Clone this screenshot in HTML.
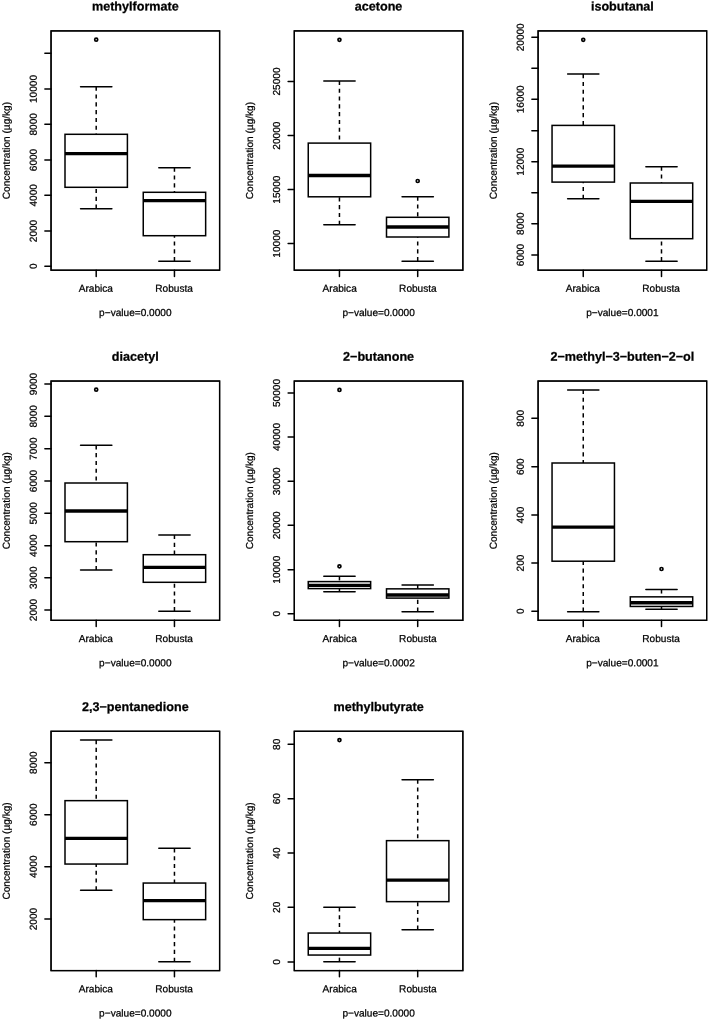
<!DOCTYPE html>
<html lang="en">
<head>
<meta charset="utf-8">
<title>Boxplots: volatile compound concentration, Arabica vs Robusta</title>
<style>
html,body{margin:0;padding:0;background:#fff;}
svg{display:block;will-change:transform;}
text{font-family:"Liberation Sans",sans-serif;fill:#000;stroke:#000;stroke-width:0.25px;stroke-linejoin:round;}
.t{font-size:12.6px;font-weight:bold;text-anchor:middle;}
.l{font-size:10.1px;text-anchor:middle;}
.ln{fill:none;stroke:#000;stroke-width:1.5;stroke-linecap:round;}
.bx{fill:#fff;stroke:#000;stroke-width:1.5;}
.md{stroke:#000;stroke-width:3.3;stroke-linecap:butt;}
.ds{stroke:#000;stroke-width:1.5;stroke-dasharray:4.1 3.7;}
.fr{fill:none;stroke:#000;stroke-width:1.3;}
.pt{fill:none;stroke:#000;stroke-width:1.7;}
</style>
</head>
<body>
<svg width="709" height="1020" viewBox="0 0 709 1020">
<rect width="709" height="1020" fill="#fff"/>
<g>
<text class="t" transform="translate(135.32,10.6) rotate(0.03)">methylformate</text>
<text class="l" transform="translate(9.65,150.55) rotate(-90.03)">Concentration (µg/kg)</text>
<path class="ln" d="M51.05 266.3H44.85"/>
<text class="l" transform="translate(36.65,266.3) rotate(-90.03)">0</text>
<path class="ln" d="M51.05 231H44.85"/>
<text class="l" transform="translate(36.65,231) rotate(-90.03)">2000</text>
<path class="ln" d="M51.05 195.3H44.85"/>
<text class="l" transform="translate(36.65,195.3) rotate(-90.03)">4000</text>
<path class="ln" d="M51.05 160H44.85"/>
<text class="l" transform="translate(36.65,160) rotate(-90.03)">6000</text>
<path class="ln" d="M51.05 124.3H44.85"/>
<text class="l" transform="translate(36.65,124.3) rotate(-90.03)">8000</text>
<path class="ln" d="M51.05 89H44.85"/>
<text class="l" transform="translate(36.65,89) rotate(-90.03)">10000</text>
<path class="ln" d="M51.05 53.3H44.85"/>
<path class="ln" d="M96.2 270.2V276.4"/>
<text class="l" transform="translate(95.8,291.8) rotate(0.03)">Arabica</text>
<path class="ln" d="M174.45 270.2V276.4"/>
<text class="l" transform="translate(174.05,291.8) rotate(0.03)">Robusta</text>
<text class="l" transform="translate(135.32,316) rotate(0.03)">p−value=0.0000</text>
<path class="ds" d="M96.2 86.7V134.3"/>
<path class="ds" d="M96.2 208.7V187.3"/>
<path class="ln" d="M80.55 86.7H111.85"/>
<path class="ln" d="M80.55 208.7H111.85"/>
<rect class="bx" x="65" y="134.3" width="62.4" height="53"/>
<path class="md" d="M65 153.7H127.4"/>
<circle class="pt" cx="96.2" cy="39.7" r="1.5"/>
<path class="ds" d="M174.45 167.7V192.3"/>
<path class="ds" d="M174.45 261.2V235.7"/>
<path class="ln" d="M158.8 167.7H190.1"/>
<path class="ln" d="M158.8 261.2H190.1"/>
<rect class="bx" x="143.25" y="192.3" width="62.4" height="43.4"/>
<path class="md" d="M143.25 200.7H205.65"/>
<rect class="fr" x="51.05" y="30.9" width="168.55" height="239.3"/>
<rect class="fr" x="51.05" y="30.9" width="168.55" height="239.3"/>
</g>
<g>
<text class="t" transform="translate(378.58,10.6) rotate(0.03)">acetone</text>
<text class="l" transform="translate(252.9,150.55) rotate(-90.03)">Concentration (µg/kg)</text>
<path class="ln" d="M294.3 243.6H288.1"/>
<text class="l" transform="translate(279.9,243.6) rotate(-90.03)">10000</text>
<path class="ln" d="M294.3 189.6H288.1"/>
<text class="l" transform="translate(279.9,189.6) rotate(-90.03)">15000</text>
<path class="ln" d="M294.3 135.6H288.1"/>
<text class="l" transform="translate(279.9,135.6) rotate(-90.03)">20000</text>
<path class="ln" d="M294.3 81.5H288.1"/>
<text class="l" transform="translate(279.9,81.5) rotate(-90.03)">25000</text>
<path class="ln" d="M339.45 270.2V276.4"/>
<text class="l" transform="translate(339.65,291.8) rotate(0.03)">Arabica</text>
<path class="ln" d="M417.7 270.2V276.4"/>
<text class="l" transform="translate(417.9,291.8) rotate(0.03)">Robusta</text>
<text class="l" transform="translate(378.58,316) rotate(0.03)">p−value=0.0000</text>
<path class="ds" d="M339.45 80.9V143.1"/>
<path class="ds" d="M339.45 224.8V196.8"/>
<path class="ln" d="M323.8 80.9H355.1"/>
<path class="ln" d="M323.8 224.8H355.1"/>
<rect class="bx" x="308.25" y="143.1" width="62.4" height="53.7"/>
<path class="md" d="M308.25 175.5H370.65"/>
<circle class="pt" cx="339.45" cy="39.8" r="1.5"/>
<path class="ds" d="M417.7 196.7V217.3"/>
<path class="ds" d="M417.7 261.2V237"/>
<path class="ln" d="M402.05 196.7H433.35"/>
<path class="ln" d="M402.05 261.2H433.35"/>
<rect class="bx" x="386.5" y="217.3" width="62.4" height="19.7"/>
<path class="md" d="M386.5 227H448.9"/>
<circle class="pt" cx="417.7" cy="181" r="1.5"/>
<rect class="fr" x="294.3" y="30.9" width="168.55" height="239.3"/>
<rect class="fr" x="294.3" y="30.9" width="168.55" height="239.3"/>
</g>
<g>
<text class="t" transform="translate(622.38,10.6) rotate(0.03)">isobutanal</text>
<text class="l" transform="translate(496.7,150.55) rotate(-90.03)">Concentration (µg/kg)</text>
<path class="ln" d="M538.1 255H531.9"/>
<text class="l" transform="translate(523.7,255) rotate(-90.03)">6000</text>
<path class="ln" d="M538.1 223.7H531.9"/>
<text class="l" transform="translate(523.7,223.7) rotate(-90.03)">8000</text>
<path class="ln" d="M538.1 192.7H531.9"/>
<path class="ln" d="M538.1 161.7H531.9"/>
<text class="l" transform="translate(523.7,161.7) rotate(-90.03)">12000</text>
<path class="ln" d="M538.1 130.7H531.9"/>
<path class="ln" d="M538.1 99.3H531.9"/>
<text class="l" transform="translate(523.7,99.3) rotate(-90.03)">16000</text>
<path class="ln" d="M538.1 68.3H531.9"/>
<path class="ln" d="M538.1 37.3H531.9"/>
<text class="l" transform="translate(523.7,37.3) rotate(-90.03)">20000</text>
<path class="ln" d="M583.25 270.2V276.4"/>
<text class="l" transform="translate(582.85,291.8) rotate(0.03)">Arabica</text>
<path class="ln" d="M661.5 270.2V276.4"/>
<text class="l" transform="translate(661.1,291.8) rotate(0.03)">Robusta</text>
<text class="l" transform="translate(622.38,316) rotate(0.03)">p−value=0.0001</text>
<path class="ds" d="M583.25 74.1V125.4"/>
<path class="ds" d="M583.25 198.8V182.1"/>
<path class="ln" d="M567.6 74.1H598.9"/>
<path class="ln" d="M567.6 198.8H598.9"/>
<rect class="bx" x="552.05" y="125.4" width="62.4" height="56.7"/>
<path class="md" d="M552.05 166.1H614.45"/>
<circle class="pt" cx="583.25" cy="39.8" r="1.5"/>
<path class="ds" d="M661.5 166.7V183"/>
<path class="ds" d="M661.5 261.2V238.7"/>
<path class="ln" d="M645.85 166.7H677.15"/>
<path class="ln" d="M645.85 261.2H677.15"/>
<rect class="bx" x="630.3" y="183" width="62.4" height="55.7"/>
<path class="md" d="M630.3 201.3H692.7"/>
<rect class="fr" x="538.1" y="30.9" width="168.55" height="239.3"/>
<rect class="fr" x="538.1" y="30.9" width="168.55" height="239.3"/>
</g>
<g>
<text class="t" transform="translate(135.32,360.75) rotate(0.03)">diacetyl</text>
<text class="l" transform="translate(9.65,500.7) rotate(-90.03)">Concentration (µg/kg)</text>
<path class="ln" d="M51.05 384H44.85"/>
<text class="l" transform="translate(36.65,384) rotate(-90.03)">9000</text>
<path class="ln" d="M51.05 416.3H44.85"/>
<text class="l" transform="translate(36.65,416.3) rotate(-90.03)">8000</text>
<path class="ln" d="M51.05 448.7H44.85"/>
<text class="l" transform="translate(36.65,448.7) rotate(-90.03)">7000</text>
<path class="ln" d="M51.05 481H44.85"/>
<text class="l" transform="translate(36.65,481) rotate(-90.03)">6000</text>
<path class="ln" d="M51.05 513.3H44.85"/>
<text class="l" transform="translate(36.65,513.3) rotate(-90.03)">5000</text>
<path class="ln" d="M51.05 545.7H44.85"/>
<text class="l" transform="translate(36.65,545.7) rotate(-90.03)">4000</text>
<path class="ln" d="M51.05 577.7H44.85"/>
<text class="l" transform="translate(36.65,577.7) rotate(-90.03)">3000</text>
<path class="ln" d="M51.05 610H44.85"/>
<text class="l" transform="translate(36.65,610) rotate(-90.03)">2000</text>
<path class="ln" d="M96.2 620.35V626.55"/>
<text class="l" transform="translate(95.8,641.95) rotate(0.03)">Arabica</text>
<path class="ln" d="M174.45 620.35V626.55"/>
<text class="l" transform="translate(174.05,641.95) rotate(0.03)">Robusta</text>
<text class="l" transform="translate(135.32,666.15) rotate(0.03)">p−value=0.0000</text>
<path class="ds" d="M96.2 445.3V483"/>
<path class="ds" d="M96.2 570V541.7"/>
<path class="ln" d="M80.55 445.3H111.85"/>
<path class="ln" d="M80.55 570H111.85"/>
<rect class="bx" x="65" y="483" width="62.4" height="58.7"/>
<path class="md" d="M65 511H127.4"/>
<circle class="pt" cx="96.2" cy="389.7" r="1.5"/>
<path class="ds" d="M174.45 535V554.7"/>
<path class="ds" d="M174.45 611.2V582.3"/>
<path class="ln" d="M158.8 535H190.1"/>
<path class="ln" d="M158.8 611.2H190.1"/>
<rect class="bx" x="143.25" y="554.7" width="62.4" height="27.6"/>
<path class="md" d="M143.25 567.3H205.65"/>
<rect class="fr" x="51.05" y="381.05" width="168.55" height="239.3"/>
<rect class="fr" x="51.05" y="381.05" width="168.55" height="239.3"/>
</g>
<g>
<text class="t" transform="translate(378.58,360.75) rotate(0.03)">2−butanone</text>
<text class="l" transform="translate(252.9,500.7) rotate(-90.03)">Concentration (µg/kg)</text>
<path class="ln" d="M294.3 393H288.1"/>
<text class="l" transform="translate(279.9,393) rotate(-90.03)">50000</text>
<path class="ln" d="M294.3 437H288.1"/>
<text class="l" transform="translate(279.9,437) rotate(-90.03)">40000</text>
<path class="ln" d="M294.3 481.3H288.1"/>
<text class="l" transform="translate(279.9,481.3) rotate(-90.03)">30000</text>
<path class="ln" d="M294.3 525.3H288.1"/>
<text class="l" transform="translate(279.9,525.3) rotate(-90.03)">20000</text>
<path class="ln" d="M294.3 569.7H288.1"/>
<text class="l" transform="translate(279.9,569.7) rotate(-90.03)">10000</text>
<path class="ln" d="M294.3 613.7H288.1"/>
<text class="l" transform="translate(279.9,613.7) rotate(-90.03)">0</text>
<path class="ln" d="M339.45 620.35V626.55"/>
<text class="l" transform="translate(339.65,641.95) rotate(0.03)">Arabica</text>
<path class="ln" d="M417.7 620.35V626.55"/>
<text class="l" transform="translate(417.9,641.95) rotate(0.03)">Robusta</text>
<text class="l" transform="translate(378.58,666.15) rotate(0.03)">p−value=0.0002</text>
<path class="ds" d="M339.45 576.3V581.6"/>
<path class="ds" d="M339.45 591.65V588.6"/>
<path class="ln" d="M323.8 576.3H355.1"/>
<path class="ln" d="M323.8 591.65H355.1"/>
<rect class="bx" x="308.25" y="581.6" width="62.4" height="7"/>
<path class="md" d="M308.25 585.35H370.65"/>
<circle class="pt" cx="339.45" cy="389.9" r="1.5"/>
<circle class="pt" cx="339.45" cy="566.35" r="1.5"/>
<path class="ds" d="M417.7 585V588.85"/>
<path class="ds" d="M417.7 611.7V598.1"/>
<path class="ln" d="M402.05 585H433.35"/>
<path class="ln" d="M402.05 611.7H433.35"/>
<rect class="bx" x="386.5" y="588.85" width="62.4" height="9.25"/>
<path class="md" d="M386.5 595H448.9"/>
<rect class="fr" x="294.3" y="381.05" width="168.55" height="239.3"/>
<rect class="fr" x="294.3" y="381.05" width="168.55" height="239.3"/>
</g>
<g>
<text class="t" transform="translate(622.38,360.75) rotate(0.03)">2−methyl−3−buten−2−ol</text>
<text class="l" transform="translate(496.7,500.7) rotate(-90.03)">Concentration (µg/kg)</text>
<path class="ln" d="M538.1 418.3H531.9"/>
<text class="l" transform="translate(523.7,418.3) rotate(-90.03)">800</text>
<path class="ln" d="M538.1 466.7H531.9"/>
<text class="l" transform="translate(523.7,466.7) rotate(-90.03)">600</text>
<path class="ln" d="M538.1 515H531.9"/>
<text class="l" transform="translate(523.7,515) rotate(-90.03)">400</text>
<path class="ln" d="M538.1 563H531.9"/>
<text class="l" transform="translate(523.7,563) rotate(-90.03)">200</text>
<path class="ln" d="M538.1 611.3H531.9"/>
<text class="l" transform="translate(523.7,611.3) rotate(-90.03)">0</text>
<path class="ln" d="M583.25 620.35V626.55"/>
<text class="l" transform="translate(582.85,641.95) rotate(0.03)">Arabica</text>
<path class="ln" d="M661.5 620.35V626.55"/>
<text class="l" transform="translate(661.1,641.95) rotate(0.03)">Robusta</text>
<text class="l" transform="translate(622.38,666.15) rotate(0.03)">p−value=0.0001</text>
<path class="ds" d="M583.25 389.9V463"/>
<path class="ds" d="M583.25 611.7V561.2"/>
<path class="ln" d="M567.6 389.9H598.9"/>
<path class="ln" d="M567.6 611.7H598.9"/>
<rect class="bx" x="552.05" y="463" width="62.4" height="98.2"/>
<path class="md" d="M552.05 527.2H614.45"/>
<path class="ds" d="M661.5 589.45V596.85"/>
<path class="ds" d="M661.5 609.15V606.45"/>
<path class="ln" d="M645.85 589.45H677.15"/>
<path class="ln" d="M645.85 609.15H677.15"/>
<rect class="bx" x="630.3" y="596.85" width="62.4" height="9.6"/>
<path class="md" d="M630.3 602.75H692.7"/>
<circle class="pt" cx="661.5" cy="569" r="1.5"/>
<rect class="fr" x="538.1" y="381.05" width="168.55" height="239.3"/>
<rect class="fr" x="538.1" y="381.05" width="168.55" height="239.3"/>
</g>
<g>
<text class="t" transform="translate(135.32,711) rotate(0.03)">2,3−pentanedione</text>
<text class="l" transform="translate(9.65,850.95) rotate(-90.03)">Concentration (µg/kg)</text>
<path class="ln" d="M51.05 762.65H44.85"/>
<text class="l" transform="translate(36.65,762.65) rotate(-90.03)">8000</text>
<path class="ln" d="M51.05 814.65H44.85"/>
<text class="l" transform="translate(36.65,814.65) rotate(-90.03)">6000</text>
<path class="ln" d="M51.05 866.65H44.85"/>
<text class="l" transform="translate(36.65,866.65) rotate(-90.03)">4000</text>
<path class="ln" d="M51.05 919.05H44.85"/>
<text class="l" transform="translate(36.65,919.05) rotate(-90.03)">2000</text>
<path class="ln" d="M96.2 970.6V976.8"/>
<text class="l" transform="translate(95.8,992.2) rotate(0.03)">Arabica</text>
<path class="ln" d="M174.45 970.6V976.8"/>
<text class="l" transform="translate(174.05,992.2) rotate(0.03)">Robusta</text>
<text class="l" transform="translate(135.32,1016.4) rotate(0.03)">p−value=0.0000</text>
<path class="ds" d="M96.2 740.05V800.65"/>
<path class="ds" d="M96.2 890.35V864.05"/>
<path class="ln" d="M80.55 740.05H111.85"/>
<path class="ln" d="M80.55 890.35H111.85"/>
<rect class="bx" x="65" y="800.65" width="62.4" height="63.4"/>
<path class="md" d="M65 838.35H127.4"/>
<path class="ds" d="M174.45 848.35V883.05"/>
<path class="ds" d="M174.45 961.75V919.65"/>
<path class="ln" d="M158.8 848.35H190.1"/>
<path class="ln" d="M158.8 961.75H190.1"/>
<rect class="bx" x="143.25" y="883.05" width="62.4" height="36.6"/>
<path class="md" d="M143.25 900.65H205.65"/>
<rect class="fr" x="51.05" y="731.3" width="168.55" height="239.3"/>
<rect class="fr" x="51.05" y="731.3" width="168.55" height="239.3"/>
</g>
<g>
<text class="t" transform="translate(378.58,711) rotate(0.03)">methylbutyrate</text>
<text class="l" transform="translate(252.9,850.95) rotate(-90.03)">Concentration (µg/kg)</text>
<path class="ln" d="M294.3 744.35H288.1"/>
<text class="l" transform="translate(279.9,744.35) rotate(-90.03)">80</text>
<path class="ln" d="M294.3 798.65H288.1"/>
<text class="l" transform="translate(279.9,798.65) rotate(-90.03)">60</text>
<path class="ln" d="M294.3 853.05H288.1"/>
<text class="l" transform="translate(279.9,853.05) rotate(-90.03)">40</text>
<path class="ln" d="M294.3 907.35H288.1"/>
<text class="l" transform="translate(279.9,907.35) rotate(-90.03)">20</text>
<path class="ln" d="M294.3 962.05H288.1"/>
<text class="l" transform="translate(279.9,962.05) rotate(-90.03)">0</text>
<path class="ln" d="M339.45 970.6V976.8"/>
<text class="l" transform="translate(339.65,992.2) rotate(0.03)">Arabica</text>
<path class="ln" d="M417.7 970.6V976.8"/>
<text class="l" transform="translate(417.9,992.2) rotate(0.03)">Robusta</text>
<text class="l" transform="translate(378.58,1016.4) rotate(0.03)">p−value=0.0000</text>
<path class="ds" d="M339.45 907.35V933.05"/>
<path class="ds" d="M339.45 961.75V955.05"/>
<path class="ln" d="M323.8 907.35H355.1"/>
<path class="ln" d="M323.8 961.75H355.1"/>
<rect class="bx" x="308.25" y="933.05" width="62.4" height="22"/>
<path class="md" d="M308.25 948.35H370.65"/>
<circle class="pt" cx="339.45" cy="740.05" r="1.5"/>
<path class="ds" d="M417.7 779.65V840.65"/>
<path class="ds" d="M417.7 929.65V901.65"/>
<path class="ln" d="M402.05 779.65H433.35"/>
<path class="ln" d="M402.05 929.65H433.35"/>
<rect class="bx" x="386.5" y="840.65" width="62.4" height="61"/>
<path class="md" d="M386.5 880.05H448.9"/>
<rect class="fr" x="294.3" y="731.3" width="168.55" height="239.3"/>
<rect class="fr" x="294.3" y="731.3" width="168.55" height="239.3"/>
</g>
</svg>
</body>
</html>
